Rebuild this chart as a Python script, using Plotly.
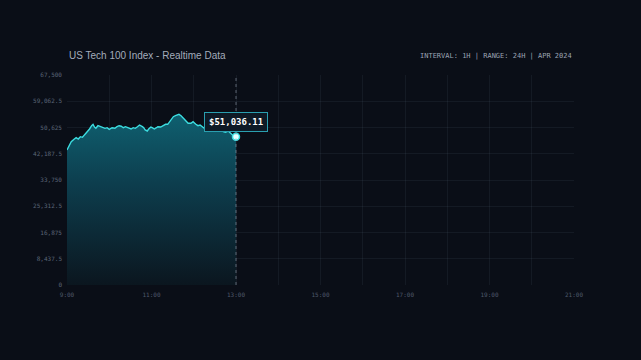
import plotly.graph_objects as go

# minutes after 09:00 and index values
minutes = [0, 2, 6, 10, 13, 16, 19, 22, 25, 28, 32, 35, 37, 39, 41, 44, 47, 51, 54, 57,
           60, 64, 68, 71, 74, 77, 80, 83, 87, 91, 94, 97, 100, 103, 107, 109, 111, 114,
           116, 119, 121, 124, 127, 129, 133, 136, 140, 143, 146, 148, 151, 154, 157, 159,
           162, 165, 169, 172, 176, 179, 183, 186, 189, 192, 196, 198, 202, 205, 208, 211,
           214, 218, 222, 225, 229, 233, 236, 240]
values = [43393, 44454, 46061, 46832, 47346, 46929, 47668, 47475, 48214, 49275, 50143,
          51204, 51654, 50786, 50368, 51204, 50882, 50561, 50368, 50561, 50046, 50561,
          50368, 50882, 51204, 51043, 50561, 50882, 50561, 50143, 50561, 50368, 50882,
          51429, 50882, 50561, 49821, 49500, 50143, 50786, 50561, 50143, 50561, 50882,
          50786, 51204, 51654, 51654, 52489, 53357, 54096, 54418, 54643, 54868, 54418,
          53582, 52714, 51975, 51975, 52489, 51654, 51204, 51429, 50882, 50368, 49821,
          50143, 50143, 50561, 49821, 49500, 49821, 49275, 49082, 49500, 48761, 47989, 47668]
y_ticks = [0, 8437.5, 16875, 25312.5, 33750, 42187.5, 50625, 59062.5, 67500]
y_tick_labels = ["0", "8,437.5", "16,875", "25,312.5", "33,750", "42,187.5", "50,625", "59,062.5", "67,500"]
title_text = "US Tech 100 Index - Realtime Data"
info_text = "INTERVAL: 1H | RANGE: 24H | APR 2024"
price_label = "$51,036.11"

def ts(m):
    h = 9 + m // 60
    mm = m % 60
    return f"2024-04-01 {h:02d}:{mm:02d}:00"

times = [ts(m) for m in minutes]

BG = "#0a0e17"
LINE = "#3cdde0"
MONO = "DejaVu Sans Mono"
GRID = "rgba(120,135,160,0.10)"

fig = go.Figure()
fig.add_trace(go.Scatter(
    x=times, y=values, mode="lines",
    line=dict(color=LINE, width=1.4),
    fill="tozeroy",
    fillgradient=dict(type="vertical", start=0, stop=max(values),
                      colorscale=[[0, "rgba(11,22,31,1)"], [0.6, "rgba(13,62,78,1)"], [1, "rgba(15,96,112,1)"]]),
    hoverinfo="skip", showlegend=False,
))
fig.add_trace(go.Scatter(
    x=[times[-1]], y=[values[-1]], mode="markers",
    marker=dict(size=7, color="#e6ffff", line=dict(color=LINE, width=1.5)),
    hoverinfo="skip", showlegend=False,
))

fig.add_shape(type="line", x0=times[-1], x1=times[-1], y0=0, y1=1, yref="paper",
              line=dict(color="rgba(170,180,195,0.5)", width=1, dash="dot"), layer="above")

fig.add_annotation(x=times[-1], y=values[-1], text=f"<b>{price_label}</b>", showarrow=False,
                   yshift=15, font=dict(family=MONO, size=9, color="#ffffff"),
                   bgcolor="#0e1a26", bordercolor="#2a9fb0", borderwidth=1, borderpad=4)

fig.add_annotation(x=0, y=1, xref="paper", yref="paper", xanchor="left", yanchor="bottom",
                   yshift=12, text=title_text, showarrow=False,
                   font=dict(family="Liberation Sans", size=10, color="#a3acbb"))
fig.add_annotation(x=1, y=1, xref="paper", yref="paper", xanchor="right", yanchor="bottom",
                   yshift=13, text=info_text, showarrow=False,
                   font=dict(family=MONO, size=7, color="#9aa3b2"))

fig.update_layout(
    width=641, height=360,
    margin=dict(l=67, r=67, t=75, b=75),
    paper_bgcolor=BG, plot_bgcolor=BG,
    xaxis=dict(
        range=["2024-04-01 09:00:00", "2024-04-01 21:00:00"],
        tickvals=[ts(m) for m in range(0, 721, 120)],
        ticktext=["9:00", "11:00", "13:00", "15:00", "17:00", "19:00", "21:00"],
        showgrid=True, gridcolor=GRID, gridwidth=1,
        minor=dict(tickvals=[ts(m) for m in range(60, 721, 120)], showgrid=True,
                   gridcolor=GRID, gridwidth=1),
        zeroline=False, showline=False, ticks="", ticklabelstandoff=5,
        tickfont=dict(family=MONO, size=6, color="#4f596b"),
    ),
    yaxis=dict(
        range=[0, 67500], tickvals=y_ticks, ticktext=y_tick_labels,
        showgrid=True, gridcolor=GRID, gridwidth=1,
        zeroline=False, showline=False, ticks="", ticklabelstandoff=4,
        tickfont=dict(family=MONO, size=6, color="#5c6678"),
    ),
)

fig.write_html("out.html")
